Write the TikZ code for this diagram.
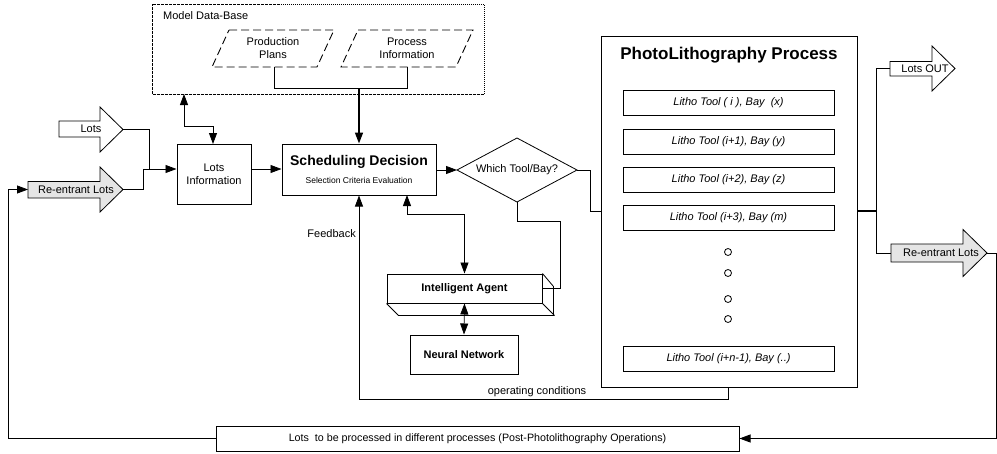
\documentclass[tikz,border=0pt]{standalone}
\usepackage{fontspec}
\setmainfont{Liberation Sans}
\usetikzlibrary{arrows.meta}
\tikzset{
  box/.style={draw, line width=1pt, fill=white, inner sep=1pt, align=center, font=\fontsize{11}{13}\selectfont},
  lbl/.style={inner sep=0pt, align=center, font=\fontsize{11}{13}\selectfont},
  conn/.style={line width=0.8pt},
  thick conn/.style={line width=1.6pt},
  tip/.tip={Triangle[length=11pt,width=8pt]},
  arr/.style={conn, -tip},
  dbl/.style={conn, tip-tip},
  blk/.style={draw, line width=0.8pt, line join=miter},
  lithobox/.style={draw, line width=0.8pt, minimum width=211pt, minimum height=25pt, inner sep=0pt, font=\fontsize{11}{13}\selectfont\itshape},
  para/.style={draw, line width=0.9pt, dash pattern=on 8pt off 4pt},
  dbbox/.style={draw, line width=0.8pt, dash pattern=on 1.5pt off 1pt on 0.5pt off 1pt},
}
\begin{document}
\begin{tikzpicture}[x=1pt,y=-1pt]
\useasboundingbox (0,0) rectangle (997,453);

% Model Data-Base
\draw[dbbox] (152,4) rectangle (484,94);
\coordinate (dbL) at (184,94);
\coordinate (dbS) at (359,94);
\node[lbl, anchor=west] (dbt) at (163,16) {Model Data-Base};
\draw[para] (229,30) -- (334,30) -- (317,67) -- (212,67) -- cycle;
\node[lbl] (pp) at (273,48) {Production\\Plans};
\coordinate (ppB) at (274,67);
\draw[para] (358,30) -- (473,30) -- (456,67) -- (341,67) -- cycle;
\node[lbl] (pi) at (407,48) {Process\\Information};
\coordinate (piB) at (407,67);

% Block arrows (left)
\draw[blk, fill=white] (59,121) -- (100,121) -- (100,107) -- (123,129.5) -- (100,152) -- (100,137) -- (59,137) -- cycle;
\node[lbl] (lots) at (91,129) {Lots};
\coordinate (lotsT) at (123,129.5);
\draw[blk, fill=gray!20] (28,181.5) -- (100,181.5) -- (100,167) -- (123,189.5) -- (100,212) -- (100,198) -- (28,198) -- cycle;
\node[lbl] (rel) at (76,190) {Re-entrant Lots};
\coordinate (relT) at (123,189.5);
\coordinate (relL) at (28,189.5);

% Block arrows (right)
\draw[blk, fill=white] (890,61.5) -- (932,61.5) -- (932,46) -- (955,68.5) -- (932,91) -- (932,76) -- (890,76) -- cycle;
\node[lbl] (lout) at (925,69) {Lots OUT};
\coordinate (loutL) at (890,68.5);
\draw[blk, fill=gray!20] (891,244) -- (963,244) -- (963,229.5) -- (987,253) -- (963,276.5) -- (963,262) -- (891,262) -- cycle;
\node[lbl] (rer) at (941,253) {Re-entrant Lots};
\coordinate (rerL) at (891,253);
\coordinate (rerT) at (987,253);

% Boxes
\node[box, minimum width=74pt, minimum height=60pt] (li) at (214,174) {Lots\\Information};
\node[box, minimum width=154pt, minimum height=51pt] (sd) at (359,169.5) {};
\node[lbl, font=\fontsize{14}{16}\selectfont\bfseries] (sdt) at (359,162) {Scheduling Decision};
\node[lbl, font=\fontsize{8.5}{10}\selectfont] (sds) at (359,180.5) {Selection Criteria Evaluation};

% Diamond
\draw[line width=0.8pt] (457,170) coordinate (dL) -- (517,138) coordinate (dT) -- (577,170) coordinate (dR) -- (517,202) coordinate (dB) -- cycle;
\node[lbl] (dtx) at (517,170) {Which Tool/Bay?};

% Intelligent agent (3D)
\node[box, minimum width=155pt, minimum height=29pt, font=\fontsize{11}{13}\selectfont\bfseries] (ia) at (464.5,288.5) {Intelligent Agent};
\draw[line width=0.8pt, line join=miter] (ia.south west) -- ++(12,12) -- ++(155,0) -- ++(0,-29) -- (ia.north east);
\draw[line width=0.8pt] (ia.south east) -- ++(12,12);
\node[box, minimum width=108pt, minimum height=39pt, font=\fontsize{11}{13}\selectfont\bfseries] (nn) at (464,354.5) {Neural Network};

% PhotoLithography
\node[box, minimum width=256pt, minimum height=351pt] (pl) at (729,211.5) {};
\node[lbl, font=\fontsize{17}{20}\selectfont\bfseries] (plt) at (729,55) {PhotoLithography Process};
\node[lithobox] (t1) at (728.5,103) {Litho Tool ( i ), Bay~ (x)};
\node[lithobox] (t2) at (728.5,141.5) {Litho Tool (i+1), Bay (y)};
\node[lithobox] (t3) at (728.5,179.5) {Litho Tool (i+2), Bay (z)};
\node[lithobox] (t4) at (728.5,217.5) {Litho Tool (i+3), Bay (m)};
\node[lithobox] (t5) at (728.5,358.5) {Litho Tool (i+n-1), Bay (..)};
\foreach \yy in {252,273,299,319} \draw[line width=0.8pt] (728,\yy) circle (3.5pt);

% Bottom box
\node[box, minimum width=523pt, minimum height=25pt, font=\fontsize{10.7}{12}\selectfont] (pp2) at (477.5,438.5) {Lots~ to be processed in different processes (Post-Photolithography Operations)};

% Connectors
\coordinate (j1) at (143,169);
\draw[conn] (lotsT) -| (149,169);
\draw[conn] (relT) -| (j1);
\draw[arr] (j1) -- (li.west |- j1);
\draw[arr] (li.east |- j1) -- (sd.west |- j1);
\draw[dbl] (dbL) -- (184,126) -| (213,144);
\draw[conn] (ppB) -- (274,88) -| (piB);
\draw[thick conn, -{Triangle[length=11pt,width=8pt]}] (359,88) -- (sd.north);
\draw[arr] (sd.east |- dL) -- (dL);
\draw[conn] (dR) -- (590,170) |- (pl.west |- 0,211);
\draw[conn] (dB) -- (517,221) -| (560,288) -- (ia.east |- 0,288);
\draw[dbl] (407,195) -- (407,214) -| (ia.north);
\draw[dbl] (ia.south) -- (nn.north);
\draw[arr] (728,387) -- (728,399) -| (sd.south);
\node[lbl, anchor=east] (fb) at (356,234) {Feedback};
\node[lbl, anchor=south] (oc) at (537,397) {operating conditions};
\draw[thick conn] (pl.east |- 0,211) -- (876,211);
\draw[conn] (loutL) -| (876,253) -- (rerL);
\draw[arr] (rerT) -- (996,253) |- (pp2.east);
\draw[arr] (pp2.west) -| (8,189.5) -- (relL);
\end{tikzpicture}
\end{document}
